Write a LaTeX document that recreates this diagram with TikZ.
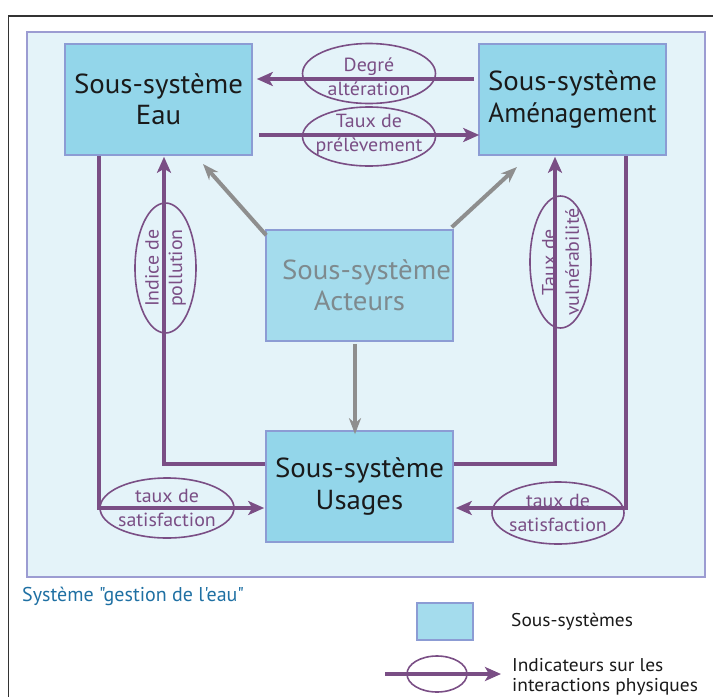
\documentclass[tikz,border=0pt]{standalone}
\usepackage{fontspec}
\setmainfont{PT Sans}[FakeStretch=1.05]
\newfontfamily\plainfont{PT Sans}
\usetikzlibrary{arrows.meta,shapes.geometric}
\definecolor{panelfill}{HTML}{E4F3F9}
\definecolor{panelborder}{HTML}{9C9CD2}
\definecolor{boxfill}{HTML}{93D6EA}
\definecolor{actfill}{HTML}{A4DCED}
\definecolor{boxborder}{HTML}{8C9CD4}
\definecolor{ppl}{HTML}{7A4E85}
\definecolor{gry}{HTML}{8E8E8E}
\definecolor{actgray}{HTML}{7E8A8E}
\definecolor{ttlblue}{HTML}{1F70A3}
\definecolor{txtblack}{HTML}{1A1A1A}
\tikzset{
  sbox/.style={draw=boxborder,line width=1.6pt,fill=boxfill,minimum width=187pt,minimum height=111pt,
    inner sep=0pt,align=center,font=\fontsize{27.5}{31.5}\selectfont,text=txtblack},
  parrow/.style={draw=ppl,line width=3.4pt,-{Stealth[length=16pt,width=14pt,inset=4pt]}},
  garrow/.style={draw=gry,line width=4pt,-{Stealth[length=16pt,width=12pt,inset=5pt]}},
  indic/.style={ellipse,draw=ppl,line width=1.6pt,inner sep=0pt},
  indtext/.style={inner sep=0pt,align=center,text=ppl,font=\fontsize{19}{23.5}\selectfont},
}
\begin{document}
\begin{tikzpicture}[x=1pt,y=-1pt]
\useasboundingbox (0,0) rectangle (713,697);
% outer frame
\coordinate (ftl) at (8.5,16);
\coordinate (ftr) at (713,16);
\coordinate (fbl) at (8.5,697);
\draw[line width=1.3pt,black!80] (ftr) -- (ftl) -- (fbl);
% panel
\node[draw=panelborder,fill=panelfill,line width=1.3pt,minimum width=678pt,minimum height=545pt,inner sep=0pt] (panel) at (366,304.5) {};
% boxes
\node[sbox] (eau) at (158.5,99.5) {Sous-système\\Eau};
\node[sbox] (amen) at (572.5,99.5) {Sous-système\\\scalebox{0.94}[1]{Aménagement}};
\node[sbox,fill=actfill,text=actgray] (act) at (359.5,285.5) {\hspace*{14pt}Sous-système\\Acteurs};
\node[sbox] (usa) at (359.5,486.5) {Sous-système\\Usages};
% helper coordinates
\coordinate (yD) at (0,79);
\coordinate (yT) at (0,135);
\coordinate (P) at (164,464);
\coordinate (V) at (555,464);
\coordinate (L) at (99,508);
\coordinate (R) at (626,508);
% ellipses
\node[indic,minimum width=133pt,minimum height=60pt] (edeg) at (369,73.5) {};
\node[indic,minimum width=133pt,minimum height=59pt] (etaux) at (369,136.5) {};
\node[indic,minimum width=61pt,minimum height=130pt] (epol) at (165.5,268) {};
\node[indic,minimum width=61pt,minimum height=132pt] (evul) at (560.5,262) {};
\node[indic,minimum width=134pt,minimum height=60pt] (esl) at (167,508) {};
\node[indic,minimum width=132pt,minimum height=62pt] (esr) at (558,513) {};
% purple connectors
\draw[parrow,shorten >=-1pt] ([xshift=-4pt]amen.west |- yD) -- ([xshift=5pt]eau.east |- yD);
\draw[parrow] ([xshift=6pt]eau.east |- yT) -- ([xshift=1pt]amen.west |- yT);
\draw[parrow] (usa.west |- P) -| ([yshift=-1pt]eau.south -| P);
\draw[parrow] (usa.east |- V) -| ([yshift=-1pt]amen.south -| V);
\draw[parrow] (eau.south -| L) |- ([xshift=-1pt]usa.west |- L);
\draw[parrow] (amen.south -| R) |- ([xshift=2pt]usa.east |- R);
% indicator texts
\node[indtext] (edegt) at ([yshift=-3.5pt]edeg.center) {Degré\\altération};
\node[indtext] (etauxt) at ([yshift=2pt]etaux.center) {Taux de\\prélèvement};
\node[indtext,rotate=90] (epolt) at (epol) {Indice de\\pollution};
\node[indtext,rotate=90] (evult) at (evul) {Taux de\\vulnérabilité};
\node[indtext] (eslt) at (esl) {taux de\\satisfaction};
\node[indtext] (esrt) at (esr) {taux de\\satisfaction};
% gray arrows
\coordinate (gl) at (203,164);
\coordinate (gr) at (517,167);
\draw[garrow] ([shift={(1pt,-6pt)}]act.north west) -- (gl);
\draw[garrow] ([shift={(-2pt,2pt)}]act.north east) -- (gr);
\draw[garrow] ([yshift=-2pt]act.south -| 355,0) -- ([yshift=-4pt]usa.north -| 355,0);
% title
\node[anchor=west,text=ttlblue,font=\plainfont\fontsize{20}{22}\selectfont,inner sep=0pt] (title) at (22,596) {Système "gestion de l'eau"};
% legend
\node[draw=boxborder,fill=actfill,line width=1.6pt,minimum width=56pt,minimum height=37pt,inner sep=0pt] (lbox) at (445,621.5) {};
\node[anchor=west,inner sep=0pt,font=\fontsize{18.5}{20}\selectfont,text=txtblack] (lboxt) at (511,622) {Sous-systèmes};
\coordinate (la) at (385,674);
\coordinate (lb) at (501,674);
\node[indic,minimum width=60pt,minimum height=36pt] (lell) at (437,674) {};
\draw[parrow] (la) -- (lb);
\node[anchor=west,inner sep=0pt,align=left,font=\fontsize{18.5}{20}\selectfont,text=txtblack] (lindt) at (512,677) {Indicateurs sur les\\interactions physiques};
\end{tikzpicture}
\end{document}
